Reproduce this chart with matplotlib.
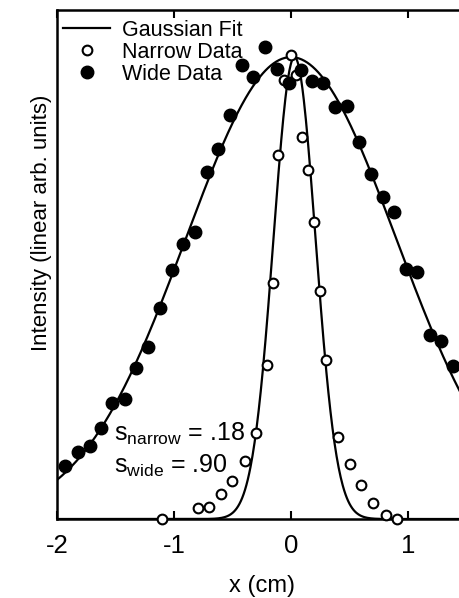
import matplotlib
matplotlib.use('Agg')
import matplotlib.pyplot as plt
import numpy as np

plt.rcParams['font.family'] = ['Liberation Sans', 'DejaVu Sans']
plt.rcParams['mathtext.fontset'] = 'custom'
plt.rcParams['mathtext.rm'] = 'Liberation Sans'

# wide beam data (filled circles)
wide_x = [-1.932, -1.818, -1.72, -1.627, -1.527, -1.42, -1.322, -1.225, -1.122,
          -1.02, -0.923, -0.823, -0.72, -0.621, -0.524, -0.42, -0.325, -0.225,
          -0.12, -0.017, 0.083, 0.177, 0.274, 0.376, 0.476, 0.581, 0.681,
          0.786, 0.88, 0.986, 1.08, 1.188, 1.285, 1.385]
wide_y = [0.115, 0.146, 0.158, 0.198, 0.252, 0.26, 0.328, 0.373, 0.457,
          0.54, 0.596, 0.621, 0.751, 0.80, 0.874, 0.983, 0.956, 1.021,
          0.975, 0.943, 0.973, 0.949, 0.943, 0.891, 0.894, 0.816, 0.746,
          0.697, 0.664, 0.542, 0.534, 0.399, 0.385, 0.332]

# narrow beam data (open circles)
narrow_x = [-1.1, -0.795, -0.701, -0.601, -0.507, -0.393, -0.296, -0.203,
            -0.151, -0.108, -0.06, 0.0, 0.04, 0.097, 0.142, 0.197, 0.248,
            0.302, 0.404, 0.50, 0.601, 0.701, 0.809, 0.909]
narrow_y = [0.0, 0.023, 0.026, 0.054, 0.082, 0.126, 0.186, 0.334,
            0.51, 0.787, 0.95, 1.004, 0.961, 0.827, 0.756, 0.644, 0.493,
            0.345, 0.178, 0.12, 0.073, 0.035, 0.009, 0.0]

# gaussian fit parameters
s_narrow, c_narrow = 0.18, 0.03
s_wide, c_wide = 0.90, 0.0

fig = plt.figure(figsize=(4.59, 5.98), dpi=100)
ax = fig.add_axes([57/459, 79/598, 409.5/459, 509/598])

xf = np.linspace(-2, 1.5, 600)
ax.plot(xf, np.exp(-(xf - c_wide)**2 / (2*s_wide**2)), color='black', lw=1.6,
        label='Gaussian Fit')
ax.plot(xf, np.exp(-(xf - c_narrow)**2 / (2*s_narrow**2)), color='black', lw=1.6)
ax.plot(narrow_x, narrow_y, 'o', mfc='white', mec='black', ms=7, mew=1.5,
        clip_on=False, label='Narrow Data', zorder=3)
ax.plot(wide_x, wide_y, 'o', color='black', ms=9, clip_on=False,
        label='Wide Data', zorder=3)

ax.set_xlim(-2, 1.5)
ax.set_ylim(0, 1.102)
ax.set_xticks([-2, -1, 0, 1])
ax.set_xticklabels(['-2', '-1', '0', '1'])
ax.set_yticks([])
ax.tick_params(axis='x', direction='in', top=True, length=6, width=1.5,
               labelsize=18.5, pad=11)
for sp in ax.spines.values():
    sp.set_linewidth(1.8)

ax.set_xlabel('x (cm)', fontsize=17, labelpad=12)
ax.set_ylabel('Intensity (linear arb. units)', fontsize=16)
ax.yaxis.set_label_coords(-0.012, 0.582)

ax.text(-1.513, 0.169, r'$\mathregular{s_{narrow}}$ = .18', fontsize=18,
        va='baseline', ha='left')
ax.text(-1.513, 0.100, r'$\mathregular{s_{wide}}$ = .90', fontsize=18,
        va='baseline', ha='left')

ax.legend(loc='upper left', bbox_to_anchor=(0.009, 0.985), frameon=False,
          fontsize=15.5, handlelength=2.2, handletextpad=0.55,
          borderaxespad=0, labelspacing=0.05, borderpad=0.1)

fig.savefig('out.png', dpi=100)
